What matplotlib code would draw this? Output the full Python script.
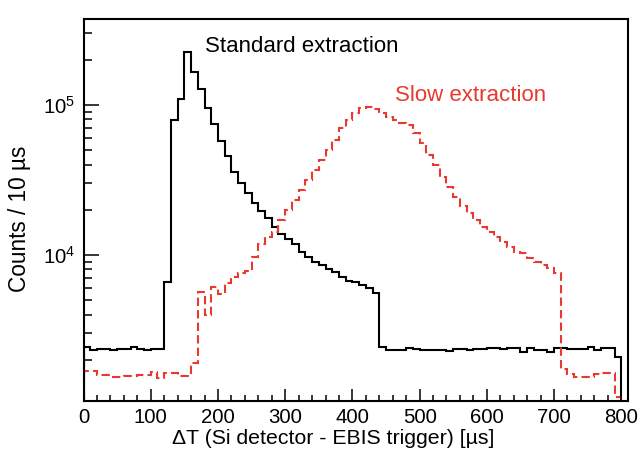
import numpy as np
import matplotlib
matplotlib.use("Agg")
import matplotlib.pyplot as plt
from matplotlib.ticker import FixedLocator, LogLocator, NullFormatter, FuncFormatter, MultipleLocator

plt.rcParams['font.family'] = ['Liberation Sans', 'DejaVu Sans']
plt.rcParams['mathtext.default'] = 'regular'

# 10 us bins from 0 to 810 us
bin_edges = np.arange(0, 820, 10)

standard = [
    2426, 2310, 2354, 2354, 2310, 2370, 2370, 2448, 2354, 2320, 2354, 2354,   # 0-110
    6640, 79400, 109600, 226000, 165000, 127000, 95900, 74300,                # 120-190
    57800, 45700, 35900, 30000, 25800, 22300, 19700, 17570, 15400, 13800,     # 200-290
    12700, 11800, 10500, 9750, 9030, 8580, 8070, 7740, 7170, 6700,            # 300-390
    6640, 6300, 6000, 5560, 2448, 2330, 2330, 2330, 2410, 2354,               # 400-490
    2330, 2330, 2330, 2330, 2280, 2370, 2370, 2310, 2354, 2354,               # 500-590
    2380, 2380, 2354, 2380, 2380, 2260, 2404, 2330, 2330, 2240,               # 600-690
    2380, 2380, 2354, 2354, 2354, 2420, 2310, 2404, 2404, 2100,               # 700-790
    0,                                                                         # 800
]

slow = [
    1690, 1690, 1585, 1585, 1545, 1545, 1560, 1560, 1575, 1575,               # 0-90
    1663, 1504, 1640, 1640, 1560, 1560, 1897, 5690, 3980, 6150,               # 100-190
    5500, 6480, 7170, 7550, 7860, 9750, 11790, 13130, 14170, 17100,           # 200-290
    19950, 23300, 27100, 31600, 36800, 43000, 50100, 58400, 70000, 79400,     # 300-390
    88900, 95000, 97000, 93700, 88000, 83500, 79400, 75700, 73600, 64900,     # 400-490
    55600, 46400, 39800, 33200, 28500, 24500, 21200, 18960, 17100, 15460,     # 500-590
    14300, 13250, 12270, 11360, 10520, 10260, 9500, 9030, 8580, 8150,         # 600-690
    7550, 1730, 1610, 1545, 1545, 1545, 1610, 1630, 1630, 1130,               # 700-790
    0,                                                                         # 800
]

x_ticks = [0, 100, 200, 300, 400, 500, 600, 700, 800]
y_ticks = [1e4, 1e5]

red = '#e8392f'

W, H = 641, 461
fig = plt.figure(figsize=(W / 100, H / 100), dpi=100)
ax = fig.add_axes([0.1303, 0.1302, 0.9797 - 0.1303, 0.9588 - 0.1302])
ax.set_yscale('log')

ax.stairs(standard, bin_edges, baseline=1, color='black', linewidth=1.5)
ax.stairs(slow, bin_edges, baseline=1, color=red, linewidth=1.5,
          linestyle=(0, (4, 2)))

ax.set_xlim(0, 810)
ax.set_ylim(1063, 374000)

ax.xaxis.set_major_locator(FixedLocator(x_ticks))
ax.xaxis.set_minor_locator(MultipleLocator(20))
ax.yaxis.set_major_locator(FixedLocator(y_ticks))
ax.yaxis.set_minor_locator(LogLocator(base=10, subs=np.arange(2, 10)))
ax.yaxis.set_minor_formatter(NullFormatter())
ax.yaxis.set_major_formatter(FuncFormatter(lambda v, p: r'$10^{%d}$' % round(np.log10(v))))

ax.tick_params(which='both', direction='in', top=False, right=False,
               labelsize=14.7, width=1.1)
ax.tick_params(axis='x', which='major', length=8.6)
ax.tick_params(axis='x', which='minor', length=4.3)
ax.tick_params(axis='y', which='major', length=11)
ax.tick_params(axis='y', which='minor', length=5.5)
ax.tick_params(axis='x', pad=5)
ax.tick_params(axis='y', pad=6)

for s in ax.spines.values():
    s.set_linewidth(1.5)

fig.text(333 / W, 1 - 438 / H, 'ΔT (Si detector - EBIS trigger) [µs]',
         fontsize=15.3, ha='center', va='center')
fig.text(20 / W, 1 - 219 / H, 'Counts / 10 µs', fontsize=16.3,
         ha='center', va='center', rotation=90)

ax.text(180.5, 247000, 'Standard extraction', fontsize=16, color='black',
        ha='left', va='center')
ax.text(463, 114800, 'Slow extraction', fontsize=16, color=red,
        ha='left', va='center')

fig.savefig('out.png', dpi=100)
